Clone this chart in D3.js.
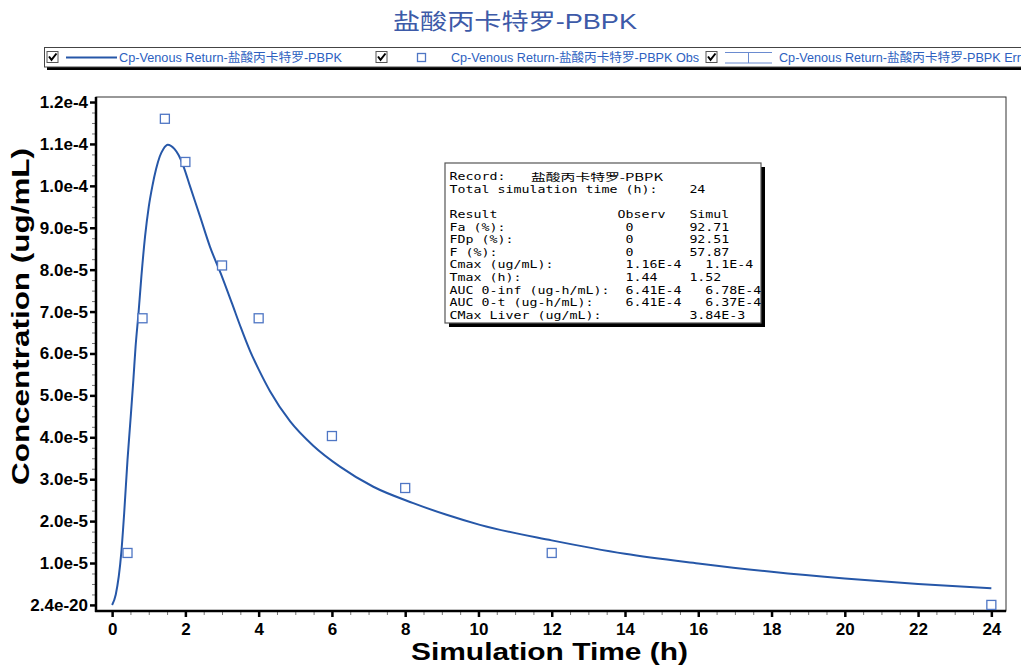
<!DOCTYPE html>
<html>
<head>
<meta charset="utf-8">
<script src="https://cdn.jsdelivr.net/npm/d3@7/dist/d3.min.js"></script>
<style>
  body { margin: 0; background: #fff; }
  svg { display: block; }
</style>
</head>
<body>
<div id="chart"></div>
<script>
// Simulated Cp-Venous Return curve (h, ug/mL)
var simTime = [0, 0.1, 0.25, 0.33, 0.42, 0.5, 0.58, 0.64, 0.72, 0.8, 0.9, 1.0, 1.1, 1.2, 1.3, 1.4, 1.52,
               1.7, 1.81, 1.95, 2.13, 2.4, 2.67, 2.97, 3.27, 3.5, 3.77, 4.0, 4.31, 4.86, 5.49, 6.22, 7.13,
               8.22, 9.13, 10.04, 12, 14, 16, 18, 20, 22, 24];
var simConc = [0, 0.25e-5, 1.24e-5, 2.2e-5, 3.46e-5, 4.4e-5, 5.37e-5, 6.16e-5, 6.96e-5, 7.85e-5, 8.8e-5, 9.5e-5,
               10.0e-5, 10.4e-5, 10.7e-5, 10.88e-5, 10.98e-5, 10.88e-5, 10.74e-5, 10.46e-5, 9.98e-5, 9.27e-5,
               8.55e-5, 7.9e-5, 7.2e-5, 6.65e-5, 6.05e-5, 5.62e-5, 5.1e-5, 4.38e-5, 3.8e-5, 3.3e-5, 2.82e-5,
               2.43e-5, 2.15e-5, 1.91e-5, 1.54e-5, 1.22e-5, 0.99e-5, 0.79e-5, 0.63e-5, 0.5e-5, 0.4e-5];

// Observed points
var obsTime = [0.42, 0.83, 1.44, 2, 3, 4, 6, 8, 12, 24];
var obsConc = [1.24e-5, 6.84e-5, 1.16e-4, 1.057e-4, 8.1e-5, 6.84e-5, 4.03e-5, 2.79e-5, 1.24e-5, 0];

// Axis ticks
var xTicks = [0, 2, 4, 6, 8, 10, 12, 14, 16, 18, 20, 22, 24];
var yTicks = [0, 1e-5, 2e-5, 3e-5, 4e-5, 5e-5, 6e-5, 7e-5, 8e-5, 9e-5, 1e-4, 1.1e-4, 1.2e-4];
var yTickLabels = ["2.4e-20", "1.0e-5", "2.0e-5", "3.0e-5", "4.0e-5", "5.0e-5", "6.0e-5",
                   "7.0e-5", "8.0e-5", "9.0e-5", "1.0e-4", "1.1e-4", "1.2e-4"];

// Texts
var title = "盐酸丙卡特罗-PBPK";
var legendLabels = ["Cp-Venous Return-盐酸丙卡特罗-PBPK",
                    "Cp-Venous Return-盐酸丙卡特罗-PBPK Obs",
                    "Cp-Venous Return-盐酸丙卡特罗-PBPK Err"];
var recordName = "盐酸丙卡特罗-PBPK";
var totalSimTime = "24";
var resultLabels = ["Fa (%):", "FDp (%):", "F (%):", "Cmax (ug/mL):", "Tmax (h):",
                    "AUC 0-inf (ug-h/mL):", "AUC 0-t (ug-h/mL):", "CMax Liver (ug/mL):"];
var resultObserv = ["0", "0", "0", "1.16E-4", "1.44", "6.41E-4", "6.41E-4", ""];
var resultSimul = ["92.71", "92.51", "57.87", "1.1E-4", "1.52", "6.78E-4", "6.37E-4", "3.84E-3"];

var lineColor = "#2657a8";
var markerColor = "#4f76c4";
var legendColor = "#2d5fbf";

var width = 1025, height = 666;
var plot = { left: 96, right: 1006, top: 97, bottom: 611 };

var svg = d3.select("#chart").append("svg")
            .attr("width", width)
            .attr("height", height);

var x = d3.scaleLinear().domain([-0.44, 24.4]).range([plot.left, plot.right]);
var y = d3.scaleLinear().domain([-1.45e-6, 1.212e-4]).range([plot.bottom, plot.top]);

// Title
svg.append("text")
   .attr("x", 515).attr("y", 29)
   .attr("text-anchor", "middle")
   .attr("font-family", "Liberation Sans, Arial, Noto Sans CJK SC, sans-serif")
   .attr("font-size", 22)
   .attr("fill", "#3d5aa8")
   .attr("textLength", 244)
   .attr("lengthAdjust", "spacingAndGlyphs")
   .text(title);

// Legend
function drawCheckbox(g, cx) {
  g.append("rect").attr("x", cx).attr("y", 51.5).attr("width", 11).attr("height", 11)
   .attr("fill", "#fff").attr("stroke", "#555").attr("stroke-width", 1);
  g.append("path").attr("d", "M" + (cx + 2) + ",56.5 L" + (cx + 4.5) + ",59.8 L" + (cx + 9.5) + ",53.5")
   .attr("fill", "none").attr("stroke", "#000").attr("stroke-width", 2);
}

function drawLegend() {
  var g = svg.append("g");
  svg.append("clipPath").attr("id", "legendClip")
     .append("rect").attr("x", 44).attr("y", 44).attr("width", 977).attr("height", 30);
  g.attr("clip-path", "url(#legendClip)");

  g.append("rect").attr("x", 47).attr("y", 50).attr("width", 980).attr("height", 20).attr("fill", "#000");
  g.append("rect").attr("x", 44.5).attr("y", 47.5).attr("width", 977).attr("height", 19.5)
   .attr("fill", "#fff").attr("stroke", "#444").attr("stroke-width", 1);

  var itemX = [47, 376, 706];
  var textX = [119, 451, 779];
  var textLen = [223, 248, 242];

  itemX.forEach(function(cx) { drawCheckbox(g, cx); });

  // line sample
  g.append("line").attr("x1", 66).attr("x2", 117).attr("y1", 57.5).attr("y2", 57.5)
   .attr("stroke", lineColor).attr("stroke-width", 2);
  // marker sample
  g.append("rect").attr("x", 417.5).attr("y", 53.5).attr("width", 8).attr("height", 8)
   .attr("fill", "#fff").attr("stroke", markerColor).attr("stroke-width", 1.3);
  // error bar sample
  g.append("path").attr("d", "M725,52.5 H772 M725,63 H772 M748.5,52.5 V63")
   .attr("fill", "none").attr("stroke", "#6a8bd0").attr("stroke-width", 1);

  legendLabels.forEach(function(label, i) {
    g.append("text")
     .attr("x", textX[i]).attr("y", 61.5)
     .attr("font-family", "Liberation Sans, Arial, Noto Sans CJK SC, sans-serif")
     .attr("font-size", 12)
     .attr("fill", legendColor)
     .attr("textLength", textLen[i])
     .attr("lengthAdjust", "spacingAndGlyphs")
     .text(label);
  });
}
drawLegend();

// Plot frame
svg.append("rect")
   .attr("x", plot.left).attr("y", plot.top)
   .attr("width", plot.right - plot.left).attr("height", plot.bottom - plot.top)
   .attr("fill", "none").attr("stroke", "#333").attr("stroke-width", 1);

// Minor ticks
var xMinor = d3.range(0, 24.01, 0.5).filter(function(d) { return d % 2 !== 0; });
var yMinor = d3.range(0, 48).map(function(i) { return i * 2.5e-6; }).filter(function(d, i) { return i % 4 !== 0; });

svg.append("g").attr("transform", "translate(0," + plot.bottom + ")")
   .call(d3.axisBottom(x).tickValues(xMinor).tickSize(4).tickFormat(""))
   .call(function(g) {
     g.select(".domain").remove();
     g.selectAll("line").attr("stroke", "#777").attr("stroke-width", 1);
   });

svg.append("g").attr("transform", "translate(" + plot.left + ",0)")
   .call(d3.axisLeft(y).tickValues(yMinor).tickSize(4).tickFormat(""))
   .call(function(g) {
     g.select(".domain").remove();
     g.selectAll("line").attr("stroke", "#777").attr("stroke-width", 1);
   });

// Major axes
var xAxis = d3.axisBottom(x).tickValues(xTicks).tickSize(6).tickPadding(6).tickFormat(d3.format("d"));
svg.append("g").attr("transform", "translate(0," + plot.bottom + ")")
   .call(xAxis)
   .call(function(g) {
     g.select(".domain").remove();
     g.selectAll("line").attr("stroke", "#000").attr("stroke-width", 2.5);
     g.selectAll("text").attr("font-family", "Liberation Sans, Arial, sans-serif")
      .attr("font-size", 17).attr("font-weight", "bold").attr("fill", "#000");
   });

var yAxis = d3.axisLeft(y).tickValues(yTicks).tickSize(6).tickPadding(2)
              .tickFormat(function(d, i) { return yTickLabels[i]; });
svg.append("g").attr("transform", "translate(" + plot.left + ",0)")
   .call(yAxis)
   .call(function(g) {
     g.select(".domain").remove();
     g.selectAll("line").attr("stroke", "#000").attr("stroke-width", 2.5);
     g.selectAll("text").attr("font-family", "Liberation Sans, Arial, sans-serif")
      .attr("font-size", 17).attr("font-weight", "bold").attr("fill", "#000");
   });

// Axis lines (thick left and bottom)
svg.append("line").attr("x1", plot.left).attr("x2", plot.left)
   .attr("y1", plot.top).attr("y2", plot.bottom + 1)
   .attr("stroke", "#000").attr("stroke-width", 2.5);
svg.append("line").attr("x1", plot.left - 1).attr("x2", plot.right)
   .attr("y1", plot.bottom).attr("y2", plot.bottom)
   .attr("stroke", "#000").attr("stroke-width", 2.5);

// Axis titles
svg.append("text")
   .attr("x", 549.5).attr("y", 660)
   .attr("text-anchor", "middle")
   .attr("font-family", "Liberation Sans, Arial, sans-serif")
   .attr("font-size", 23).attr("font-weight", "bold")
   .attr("textLength", 277).attr("lengthAdjust", "spacingAndGlyphs")
   .text("Simulation Time (h)");

svg.append("text")
   .attr("transform", "translate(29,316.5) rotate(-90)")
   .attr("text-anchor", "middle")
   .attr("font-family", "Liberation Sans, Arial, sans-serif")
   .attr("font-size", 23).attr("font-weight", "bold")
   .attr("textLength", 337).attr("lengthAdjust", "spacingAndGlyphs")
   .text("Concentration (ug/mL)");

// Simulated curve
var simPoints = simTime.map(function(t, i) { return { t: t, c: simConc[i] }; });
var line = d3.line()
             .x(function(d) { return x(d.t); })
             .y(function(d) { return y(d.c); })
             .curve(d3.curveMonotoneX);

svg.append("path")
   .datum(simPoints)
   .attr("d", line)
   .attr("fill", "none")
   .attr("stroke", lineColor)
   .attr("stroke-width", 2);

// Observed points
var obsPoints = obsTime.map(function(t, i) { return { t: t, c: obsConc[i] }; });
svg.selectAll("rect.obs")
   .data(obsPoints)
   .enter()
   .append("rect")
   .attr("class", "obs")
   .attr("x", function(d) { return x(d.t) - 4.5; })
   .attr("y", function(d) { return y(d.c) - 4.5; })
   .attr("width", 9).attr("height", 9)
   .attr("fill", "#fff")
   .attr("stroke", markerColor)
   .attr("stroke-width", 1.3);

// Report box (monospaced text, glyphs widened to the report's 8px column)
function drawReport() {
  var bx = 445, by = 163, bw = 316, bh = 160;
  var g = svg.append("g");
  g.append("rect").attr("x", bx + 4).attr("y", by + 4).attr("width", bw).attr("height", bh).attr("fill", "#000");
  g.append("rect").attr("x", bx).attr("y", by).attr("width", bw).attr("height", bh)
   .attr("fill", "#fff").attr("stroke", "#555").attr("stroke-width", 1.2);

  var charW = 8;
  var fontSize = 10.5;
  var sx = charW / (0.602 * fontSize);
  function pad(s, n) { return s + " ".repeat(Math.max(0, n - s.length)); }

  var rows = [];
  rows.push("Total simulation time (h):    " + totalSimTime);
  rows.push("");
  rows.push(pad("Result", 21) + pad("Observ", 9) + "Simul");
  resultLabels.forEach(function(label, i) {
    var obs = resultObserv[i];
    var simCol = Math.max(30, 22 + obs.length + 3);
    rows.push(pad(pad(label, 22) + obs, simCol) + resultSimul[i]);
  });

  var font = "DejaVu Sans Mono, Liberation Mono, monospace";
  var base = 180.5, step = 12.57;

  var tg = g.append("g").attr("transform", "translate(449.5,0) scale(" + sx + ",1)");

  tg.append("text").attr("x", 0).attr("y", base)
    .attr("font-family", font).attr("font-size", fontSize)
    .text("Record:");
  g.append("text").attr("x", 531).attr("y", base)
   .attr("font-family", "Noto Sans CJK SC, DejaVu Sans Mono, sans-serif").attr("font-size", 10.5)
   .attr("textLength", 132).attr("lengthAdjust", "spacingAndGlyphs")
   .text(recordName);

  rows.forEach(function(r, i) {
    if (r === "") return;
    tg.append("text")
      .attr("x", 0).attr("y", base + (i + 1) * step)
      .attr("font-family", font).attr("font-size", fontSize)
      .attr("xml:space", "preserve")
      .style("white-space", "pre")
      .text(r);
  });
}
drawReport();
</script>
</body>
</html>
